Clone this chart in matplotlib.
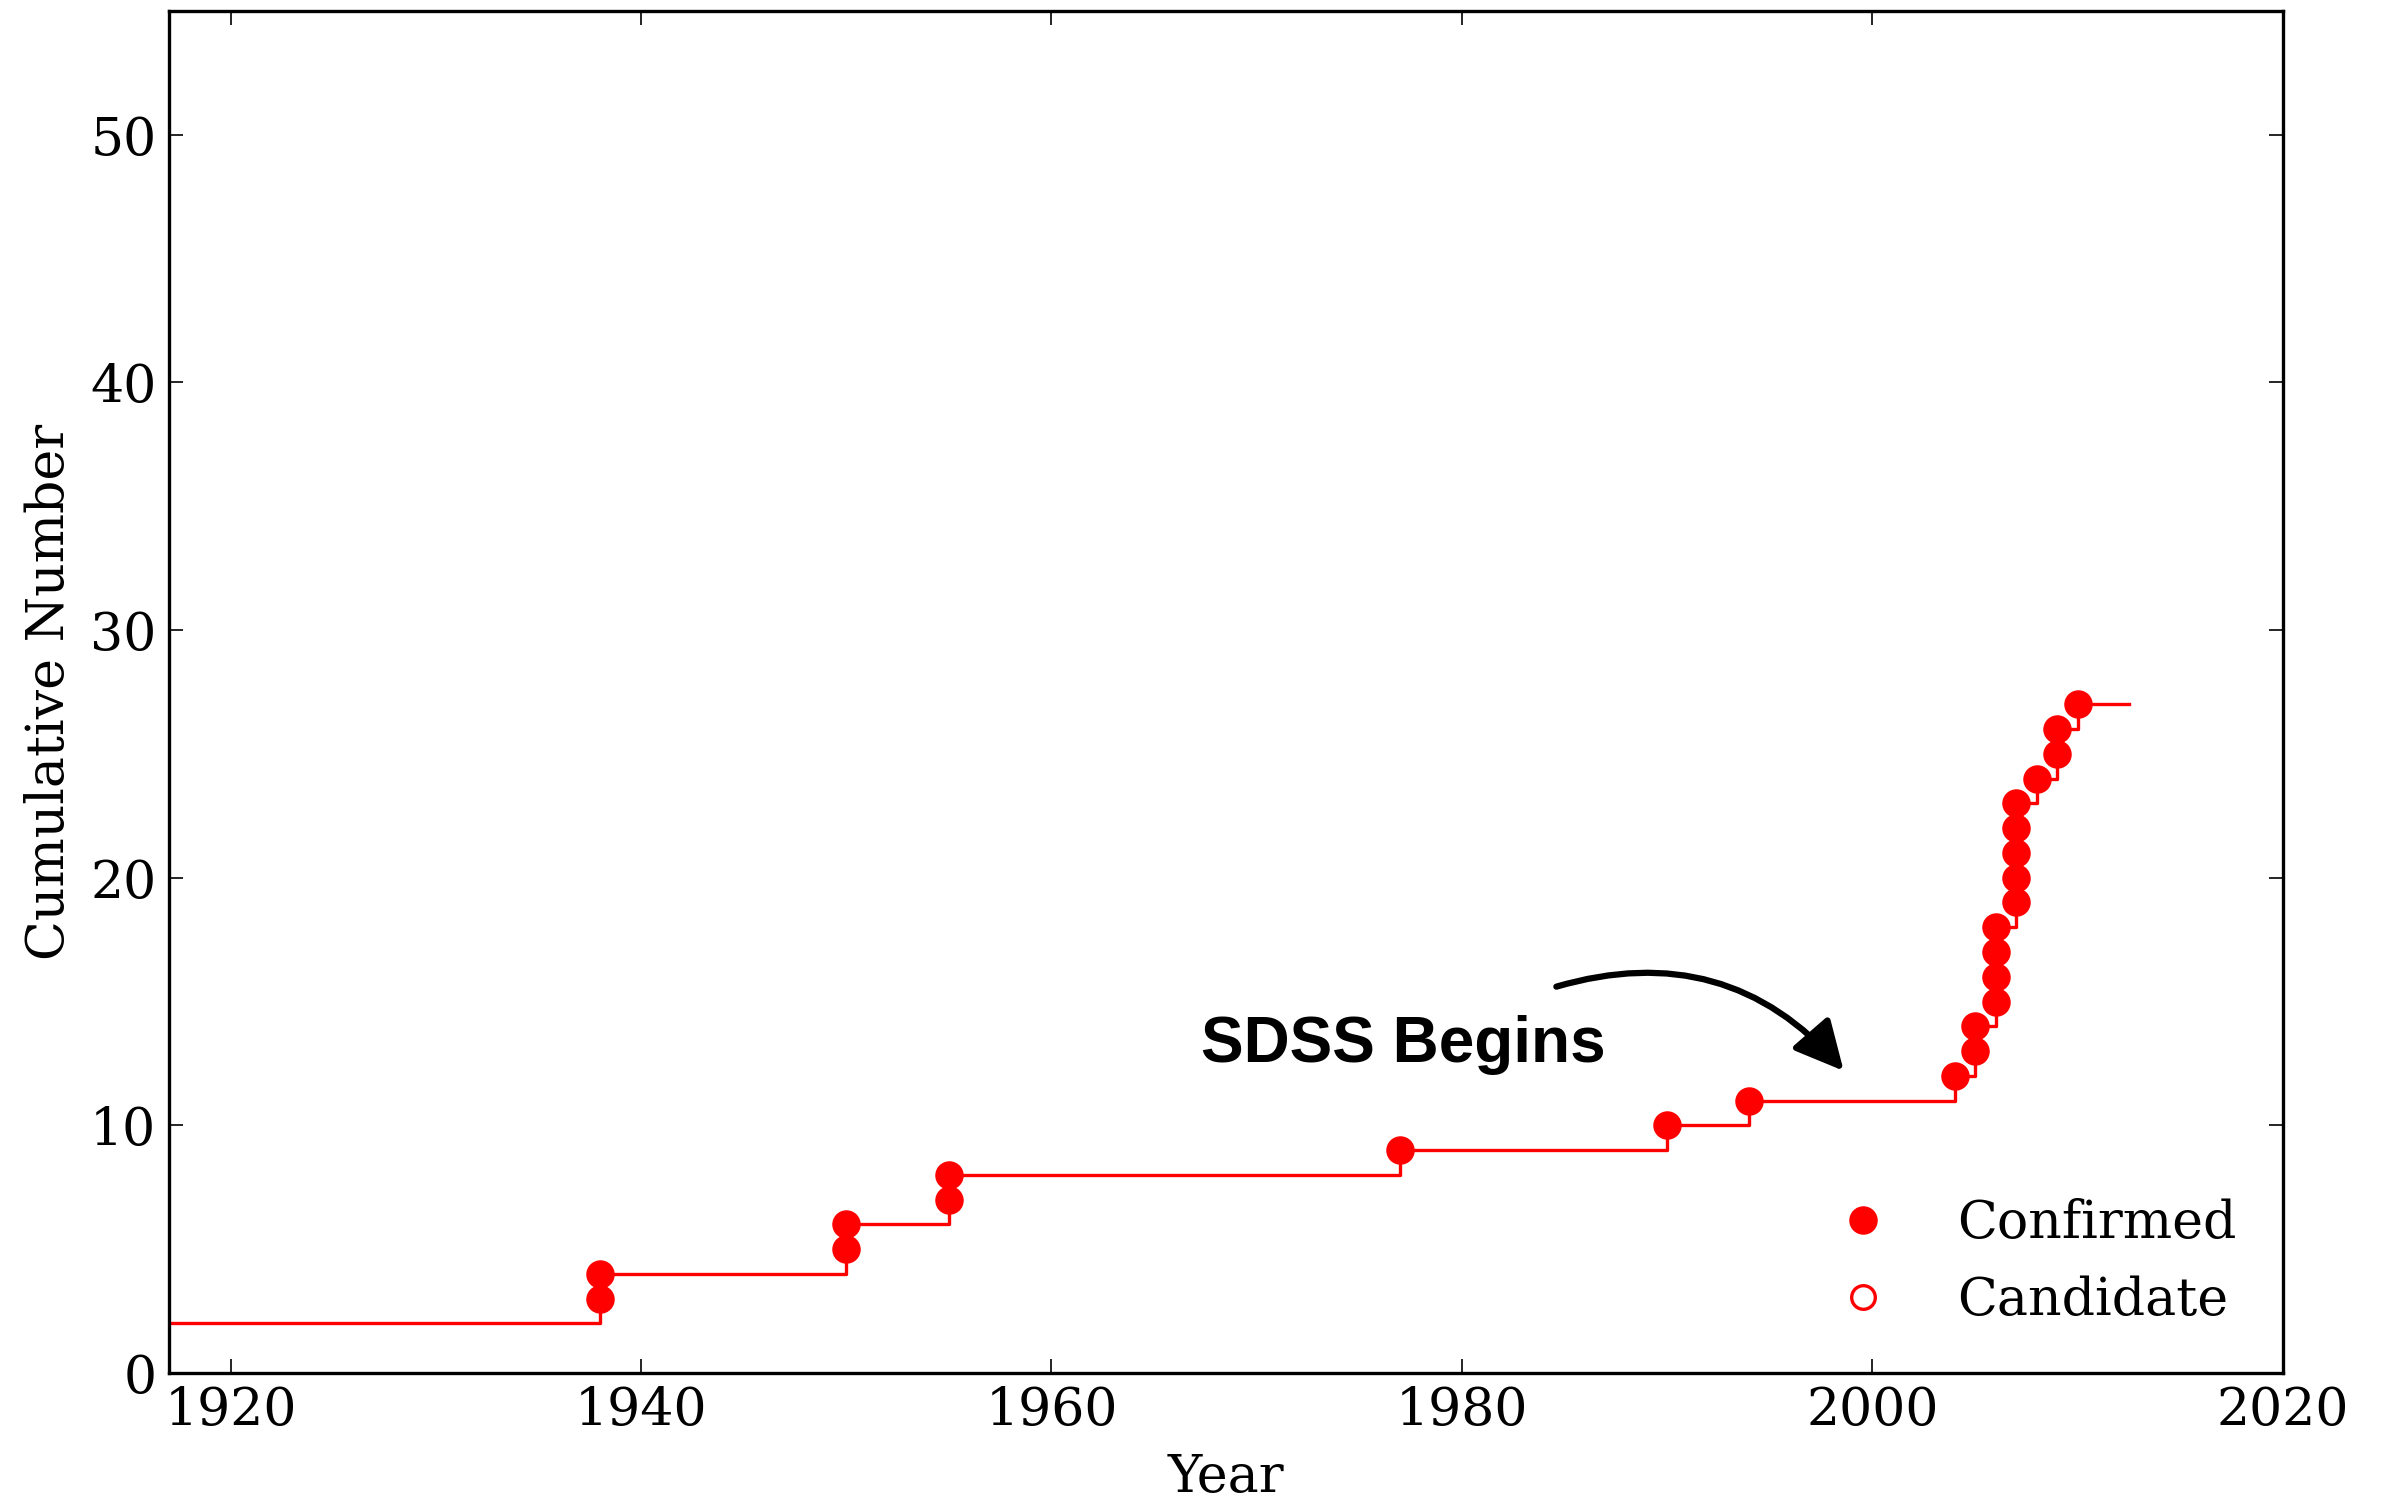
import matplotlib
matplotlib.use("Agg")
import matplotlib.pyplot as plt
import numpy as np

# Discovery years of confirmed objects (one entry per object)
years = [1938, 1938, 1950, 1950, 1955, 1955, 1977, 1990, 1994, 2004,
         2005, 2005, 2006, 2006, 2006, 2006, 2007, 2007, 2007, 2007,
         2007, 2008, 2009, 2009, 2010]
# Running total before the first plotted discovery
start_year = 1917
start_count = 2
end_year = 2012.5

counts = start_count + np.arange(1, len(years) + 1)

x_ticks = [1920, 1940, 1960, 1980, 2000, 2020]
y_ticks = [0, 10, 20, 30, 40, 50]

plt.rcParams['font.family'] = ['DejaVu Serif']
plt.rcParams['mathtext.fontset'] = 'dejavuserif'

FS = 37.5

fig = plt.figure(figsize=(23.86, 15.02), dpi=100)
ax = fig.add_axes([0.0708, 0.0859, 0.886, 0.9068])

step_x = [start_year] + years + [end_year]
step_y = [start_count] + list(counts) + [counts[-1]]
ax.step(step_x, step_y, where='post', color='red', lw=2.4, zorder=2)

ax.plot(years, counts, 'o', color='red', ms=19.5, mec='red', zorder=3,
        label='Confirmed')
ax.plot([], [], 'o', color='red', mfc='white', mec='red', mew=2.4, ms=17,
        label='Candidate')

ax.set_xlim(1917, 2020)
ax.set_ylim(0, 55)
ax.set_xticks(x_ticks)
ax.set_yticks(y_ticks)

for sp in ax.spines.values():
    sp.set_linewidth(2.4)
ax.tick_params(which='both', direction='in', top=True, right=True,
               length=10, width=1.2, labelsize=FS, pad=9)

ax.set_xlabel('Year', fontsize=FS, labelpad=11)
ax.set_ylabel('Cumulative Number', fontsize=FS, labelpad=11)

ax.text(1967.3, 12.55, 'SDSS Begins', fontsize=46, fontweight='bold',
        family='Liberation Sans', ha='left', va='baseline')
ax.annotate('', xy=(1998.6, 12.2), xytext=(1984.6, 15.6),
            arrowprops=dict(arrowstyle='-|>,head_length=1.0,head_width=0.5',
                            connectionstyle='arc3,rad=-0.32',
                            color='black', lw=4.5, mutation_scale=30,
                            shrinkA=0, shrinkB=0))

leg = ax.legend(loc='lower right', frameon=False, numpoints=1, fontsize=FS,
                handlelength=2.0, handletextpad=0.8, labelspacing=0.5)

fig.savefig('out.png', dpi=100)
